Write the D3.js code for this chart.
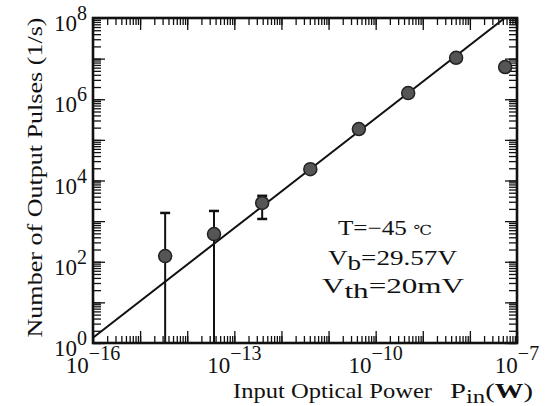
<!DOCTYPE html>
<html>
<head>
<meta charset="utf-8">
<script src="https://cdn.jsdelivr.net/npm/d3@7"></script>
<style>
  body { margin: 0; background: #fff; }
  svg text { font-family: "Liberation Serif", "DejaVu Serif", serif; fill: #111; }
</style>
</head>
<body>
<svg id="chart" width="556" height="406"></svg>
<script>
// measured points: input optical power (W) vs output pulse rate (1/s)
var power  = [3.4e-15, 3.7e-14, 3.9e-13, 4.1e-12, 4.4e-11, 4.9e-10, 5.1e-9, 5.6e-8];
var counts = [138, 480, 2800, 1.9e4, 1.85e5, 1.42e6, 1.05e7, 6.2e6];

// error bars (only the three weakest inputs have them)
var errPower = [3.4e-15, 3.7e-14, 3.9e-13];
var errLow   = [1, 1, 1130];
var errHigh  = [1590, 1780, 4200];

// straight fit line on log-log axes
var fitPower  = [1e-16, 5.5e-8];
var fitCounts = [1.35, 1e8];

// decade tick labels
var xTickExp = [-16, -13, -10, -7];
var yTickExp = [0, 2, 4, 6, 8];

var box = { l: 93, r: 517, t: 18, b: 343 };

var svg = d3.select("#chart");

var x = d3.scaleLog().domain([1e-16, 1e-7]).range([box.l, box.r]);
var y = d3.scaleLog().domain([1, 1e8]).range([box.b, box.t]);

var xMinor = x.ticks();
var yMinor = y.ticks();
var xMajor = d3.range(-16, -6).map(function (e) { return Math.pow(10, e); });
var yMajor = d3.range(0, 9).map(function (e) { return Math.pow(10, e); });

// tick marks point inwards on all four sides
function ticks(axisFn, scale, values, size, transform) {
    svg.append("g")
        .attr("transform", transform)
        .call(axisFn(scale).tickValues(values).tickSize(-size).tickFormat(""))
        .call(function (g) {
            g.select(".domain").remove();
            g.selectAll("line").attr("stroke", "#111").attr("stroke-width", 1.3);
        });
}
ticks(d3.axisBottom, x, xMinor, 7, "translate(0," + box.b + ")");
ticks(d3.axisBottom, x, xMajor, 12, "translate(0," + box.b + ")");
ticks(d3.axisTop, x, xMinor, 7, "translate(0," + box.t + ")");
ticks(d3.axisTop, x, xMajor, 12, "translate(0," + box.t + ")");
ticks(d3.axisLeft, y, yMinor, 8, "translate(" + box.l + ",0)");
ticks(d3.axisLeft, y, yMajor, 12, "translate(" + box.l + ",0)");
ticks(d3.axisRight, y, yMinor, 8, "translate(" + box.r + ",0)");
ticks(d3.axisRight, y, yMajor, 12, "translate(" + box.r + ",0)");

// frame
svg.append("rect")
    .attr("x", box.l).attr("y", box.t)
    .attr("width", box.r - box.l).attr("height", box.b - box.t)
    .attr("fill", "none").attr("stroke", "#111").attr("stroke-width", 2.6);

// clip for data
svg.append("clipPath").attr("id", "clip")
    .append("rect").attr("x", box.l).attr("y", box.t)
    .attr("width", box.r - box.l).attr("height", box.b - box.t);

var plot = svg.append("g").attr("clip-path", "url(#clip)");

// fit line
var line = d3.line()
    .x(function (d) { return x(d[0]); })
    .y(function (d) { return y(d[1]); });

plot.append("path")
    .datum(d3.zip(fitPower, fitCounts))
    .attr("d", line)
    .attr("fill", "none")
    .attr("stroke", "#111")
    .attr("stroke-width", 2);

// error bars
var errs = d3.zip(errPower, errLow, errHigh);
var eg = plot.selectAll(".err").data(errs).enter().append("g").attr("class", "err");
eg.append("line")
    .attr("x1", function (d) { return x(d[0]); })
    .attr("x2", function (d) { return x(d[0]); })
    .attr("y1", function (d) { return y(d[1]); })
    .attr("y2", function (d) { return y(d[2]); })
    .attr("stroke", "#111").attr("stroke-width", 2);
eg.append("line")
    .attr("x1", function (d) { return x(d[0]) - 5; })
    .attr("x2", function (d) { return x(d[0]) + 5; })
    .attr("y1", function (d) { return y(d[2]); })
    .attr("y2", function (d) { return y(d[2]); })
    .attr("stroke", "#111").attr("stroke-width", 2.5);
eg.filter(function (d) { return d[1] > 1; }).append("line")
    .attr("x1", function (d) { return x(d[0]) - 5; })
    .attr("x2", function (d) { return x(d[0]) + 5; })
    .attr("y1", function (d) { return y(d[1]); })
    .attr("y2", function (d) { return y(d[1]); })
    .attr("stroke", "#111").attr("stroke-width", 2.5);

// markers
svg.selectAll(".pt")
    .data(d3.zip(power, counts))
    .enter().append("circle")
    .attr("class", "pt")
    .attr("cx", function (d) { return x(d[0]); })
    .attr("cy", function (d) { return y(d[1]); })
    .attr("r", 6.5)
    .attr("fill", "#555")
    .attr("stroke", "#222")
    .attr("stroke-width", 1.5);

// power-of-ten labels
function powLabel(g, exp, size, supSize, rise) {
    g.append("tspan").text("10").attr("font-size", size);
    g.append("tspan").text(exp < 0 ? "\u2212" + (-exp) : String(exp))
        .attr("font-size", supSize).attr("dy", -rise);
}

xTickExp.forEach(function (e) {
    var t = svg.append("text")
        .attr("x", x(Math.pow(10, e)))
        .attr("y", 373)
        .attr("text-anchor", "middle");
    powLabel(t, e, 23, 20, 13);
});

yTickExp.forEach(function (e) {
    var t = svg.append("text")
        .attr("x", 87)
        .attr("y", y(Math.pow(10, e)) + 13)
        .attr("text-anchor", "end");
    powLabel(t, e, 23, 20, 11);
});

// stretch text to the wide face of the original lettering
function wide(t, len) {
    return t.attr("textLength", len).attr("lengthAdjust", "spacingAndGlyphs");
}

// axis titles
wide(svg.append("text")
    .attr("x", 233).attr("y", 398)
    .attr("font-size", 22)
    .text("Input Optical Power"), 199);

var pt = wide(svg.append("text").attr("x", 450).attr("y", 398)
    .attr("font-size", 22), 83);
pt.append("tspan").text("P");
pt.append("tspan").text("in").attr("font-size", 19).attr("dy", 5);
pt.append("tspan").text("(").attr("dy", -5);
pt.append("tspan").text("W").attr("font-weight", "bold");
pt.append("tspan").text(")");

wide(svg.append("text")
    .attr("transform", "translate(42," + ((box.t + 337) / 2) + ") rotate(-90)")
    .attr("text-anchor", "middle")
    .attr("font-size", 22)
    .text("Number of Output Pulses (1/s)"), 320);

// conditions
var a1 = wide(svg.append("text").attr("x", 338).attr("y", 235)
    .attr("font-size", 21), 94);
a1.append("tspan").text("T=\u221245 ");
a1.append("tspan").text("\u2103").attr("font-size", 14);

var a2 = wide(svg.append("text").attr("x", 328).attr("y", 265)
    .attr("font-size", 21), 129);
a2.append("tspan").text("V");
a2.append("tspan").text("b").attr("dy", 5);
a2.append("tspan").text("=29.57V").attr("dy", -5);

var a3 = wide(svg.append("text").attr("x", 322).attr("y", 293)
    .attr("font-size", 21), 142);
a3.append("tspan").text("V");
a3.append("tspan").text("th").attr("dy", 5);
a3.append("tspan").text("=20mV").attr("dy", -5);
</script>
</body>
</html>
